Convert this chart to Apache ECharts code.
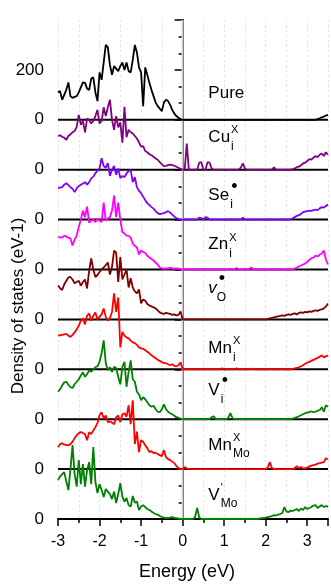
<!DOCTYPE html>
<html>
<head>
<meta charset="utf-8">
<script src="https://cdn.jsdelivr.net/npm/echarts@6/dist/echarts.min.js"></script>
<style>
html, body { margin: 0; padding: 0; background: #fff; }
#chart { width: 331px; height: 584px; }
</style>
</head>
<body>
<div id="chart"></div>
<script>
// energy grid of the DOS data, 0.05 eV steps from -3 to 3.5
const energy = [];
for (let i = 0; i <= 130; i++) energy.push(Math.round((-3 + i * 0.05) * 100) / 100);

const pure = [
  110,115,80,100,120,150,95,88,92,95,
  110,130,150,148,125,120,165,170,110,75,
  190,160,230,300,290,220,180,215,205,195,
  215,230,200,230,195,190,240,300,270,210,
  190,55,210,180,148,120,95,70,55,45,
  35,70,80,75,60,40,25,15,8,3,
  0,0,0,0,0,0,0,0,0,0,
  0,0,0,0,0,0,0,0,0,0,
  0,0,0,0,0,0,0,0,0,0,
  0,0,0,0,0,0,0,0,0,0,
  0,0,0,0,0,0,0,0,0,0,
  0,0,0,0,0,0,0,0,0,0,
  0,0,0,0,0,3,6,10,13,17,
  20];
const cuI = [
  136,138,132,128,120,135,142,150,155,172,
  220,180,195,150,205,200,185,195,215,240,
  185,195,250,215,250,280,200,160,215,170,
  190,108,252,130,160,150,145,135,125,110,
  92,95,75,70,62,58,52,45,40,30,
  22,14,15,18,20,18,16,12,8,3,
  0,0,105,0,0,0,0,0,28,30,
  0,0,30,28,5,0,0,0,0,0,
  0,0,0,0,0,0,0,0,8,25,
  5,0,0,0,0,0,0,0,0,0,
  0,0,0,0,10,0,0,0,0,0,
  0,0,0,2,5,10,12,18,25,28,
  35,42,40,48,55,50,60,65,55,70,
  60];
const seI = [
  126,128,130,140,146,138,130,124,110,125,
  135,140,145,150,140,150,165,172,186,195,
  206,246,215,208,226,175,200,215,180,205,
  166,175,170,185,195,198,150,170,130,115,
  106,92,78,66,58,50,44,34,26,22,
  24,26,30,34,28,20,12,6,2,0,
  0,0,0,0,0,0,0,0,8,6,
  0,10,8,0,0,0,0,0,0,0,
  0,0,0,0,0,0,0,0,0,8,
  0,0,0,0,0,0,0,0,0,0,
  0,0,0,0,0,0,0,0,0,0,
  0,0,2,5,10,15,18,22,30,32,
  34,36,35,38,40,38,45,50,48,55,
  60];
const znI = [
  129,130,128,136,132,128,124,96,120,136,
  170,200,236,210,252,188,195,200,190,204,
  195,190,268,195,205,210,236,296,210,268,
  200,150,144,136,135,128,104,95,88,60,
  76,70,66,55,48,42,36,28,20,8,
  4,3,4,4,8,4,3,4,3,2,
  0,0,0,0,0,0,0,0,0,0,
  0,0,0,0,0,0,0,0,0,0,
  0,0,0,0,0,0,6,0,0,0,
  0,0,0,8,0,0,0,0,0,0,
  0,0,0,0,0,0,0,0,0,0,
  0,0,0,2,4,8,12,16,20,24,
  30,38,45,48,56,52,60,64,76,40,
  20];
const vO = [
  136,125,118,140,155,168,170,160,145,150,
  155,135,150,160,124,196,244,200,170,178,
  190,200,208,218,228,180,210,276,268,150,
  250,160,180,200,128,165,128,112,104,120,
  64,80,75,62,56,52,48,44,36,28,
  24,22,26,24,22,18,20,16,18,32,
  0,0,0,0,0,0,0,0,0,0,
  0,0,0,0,0,0,0,0,0,0,
  0,0,0,0,0,0,0,0,0,0,
  0,0,0,0,0,0,0,0,0,0,
  0,2,4,6,8,10,12,14,16,14,
  18,20,18,22,24,20,26,28,26,30,
  28,32,30,34,36,34,38,40,44,52,
  64];
const mnI = [
  136,136,138,140,142,135,130,138,148,160,
  175,195,204,180,215,224,195,215,228,200,
  210,220,244,210,195,205,230,304,230,288,
  88,150,135,128,124,115,108,105,98,88,
  84,82,76,70,64,56,50,44,38,34,
  28,26,24,20,16,20,14,12,16,28,
  0,0,0,0,0,0,0,0,0,0,
  0,0,0,0,0,0,0,0,0,4,
  0,0,0,0,0,0,4,0,0,0,
  0,0,0,3,0,0,0,0,0,0,
  0,0,0,0,0,0,0,0,0,0,
  0,0,0,2,4,6,8,12,16,22,
  26,30,34,38,42,46,50,56,48,52,
  56];
const vI = [
  110,120,135,148,150,138,128,125,140,150,
  160,175,188,170,180,196,190,200,208,212,
  230,264,316,225,196,208,190,210,205,170,
  140,210,230,130,190,236,160,150,110,100,
  76,88,80,68,56,50,54,40,30,28,
  40,60,40,30,24,20,14,8,6,2,
  0,0,0,0,0,0,0,0,0,0,
  0,0,0,0,8,12,0,0,0,0,
  0,0,6,24,4,0,0,0,0,0,
  0,0,0,0,0,0,0,0,0,0,
  0,0,0,0,0,0,0,0,0,0,
  0,0,0,2,5,8,12,16,20,24,
  26,28,32,28,30,34,36,48,30,56,
  50];
const mnMo = [
  88,100,104,98,96,96,100,110,124,135,
  144,148,145,140,116,148,140,155,168,184,
  216,228,205,215,188,192,186,180,208,215,
  188,220,224,210,256,180,276,100,150,68,
  116,110,95,84,68,72,64,66,60,56,
  52,76,48,40,36,30,24,12,4,0,
  0,8,2,0,0,0,0,0,0,0,
  0,0,0,0,0,0,0,0,0,0,
  0,0,0,0,0,0,0,0,0,0,
  0,0,0,0,0,0,0,0,0,0,
  0,6,28,4,0,0,0,0,0,0,
  0,0,0,0,4,12,4,8,2,4,
  6,10,14,16,18,22,24,26,28,44,
  38];
const vMo = [
  156,170,180,188,150,116,200,296,180,130,
  236,140,220,130,196,228,140,288,150,104,
  140,116,88,120,110,100,80,110,64,100,
  144,90,70,84,55,50,92,65,70,36,
  50,55,48,40,36,30,24,20,18,12,
  8,6,4,4,6,8,4,3,2,0,
  0,0,0,0,0,0,8,44,6,0,
  0,0,0,0,0,0,0,0,0,0,
  0,0,0,0,0,0,0,0,0,0,
  0,0,0,0,0,0,0,2,3,4,
  6,8,10,12,16,14,18,20,24,48,
  30,28,34,32,36,40,32,42,36,48,
  40,44,48,54,56,44,50,56,48,52,
  50];

// stacking: each panel is shifted up by 200 states/eV
const curves = [pure, cuI, seI, znI, vO, mnI, vI, mnMo, vMo];
const offsets = [1600, 1400, 1200, 1000, 800, 600, 400, 200, 0];
const colors = ['#000000', '#800080', '#8000ff', '#ff00ff', '#800000', '#ff0000', '#008000', '#ff0000', '#008000'];

// y tick labels: "0" at every baseline, "200" above the top one
const yTickValues = [0, 200, 400, 600, 800, 1000, 1200, 1400, 1600, 1800];
const yTickTexts = ['0', '0', '0', '0', '0', '0', '0', '0', '0', '200'];
const xTickValues = [-3, -2, -1, 0, 1, 2, 3];
const xTickTexts = ['-3', '-2', '-1', '0', '1', '2', '3'];

// panel names: main text, superscript, subscript, height above baseline
const labelMain = ['Pure', 'Cu', 'Se', 'Zn', 'v', 'Mn', 'V', 'Mn', 'V'];
const labelSup = ['', 'X', '•', 'X', '•', 'X', '•', 'X', '\''];
const labelSub = ['', 'i', 'i', 'i', 'O', 'i', 'i', 'Mo', 'Mo'];
const labelLift = [108, 130, 96, 100, 124, 84, 116, 96, 96];
const labelE = 0.62;

const FONT = '"Liberation Sans", Arial, sans-serif';

const series = [];
// zero line of each panel
offsets.forEach(function (off) {
  series.push({
    type: 'line', silent: true, symbol: 'none',
    data: [[-3, off], [3.5, off]],
    lineStyle: { color: '#000', width: 2 }
  });
});
// Fermi level
series.push({
  type: 'line', silent: true, symbol: 'none',
  data: [[0, 0], [0, 2000]],
  lineStyle: { color: '#d0d0d0', width: 2 }
});
curves.forEach(function (vals, k) {
  series.push({
    type: 'line', silent: true, symbol: 'none',
    data: vals.map(function (v, i) { return [energy[i], v + offsets[k]]; }),
    lineStyle: { color: colors[k], width: 1.8 }
  });
});

const option = {
  animation: false,
  grid: { left: 58, right: 1, top: 20, bottom: 65 },
  xAxis: [
    {
      type: 'value', min: -3, max: 3.5, interval: 1, position: 'bottom',
      axisLine: { lineStyle: { color: '#000', width: 2 } },
      axisTick: { length: 7, lineStyle: { color: '#000', width: 1.5 } },
      axisLabel: {
        color: '#000', fontSize: 16, fontFamily: FONT, margin: 15,
        formatter: function (v) {
          const k = xTickValues.indexOf(Math.round(v * 100) / 100);
          return k < 0 ? '' : xTickTexts[k];
        }
      },
      splitLine: { show: false }
    },
    {
      type: 'value', min: -3, max: 3.5, interval: 0.5, position: 'bottom',
      axisLine: { show: false },
      axisTick: { length: 4, lineStyle: { color: '#000', width: 1.5 } },
      axisLabel: { show: false },
      splitLine: { show: true, lineStyle: { color: '#e2e2e2', width: 1, type: [2, 3] } }
    }
  ],
  yAxis: {
    type: 'value', min: 0, max: 2000, interval: 200,
    axisLine: { show: true, lineStyle: { color: '#000', width: 2 } },
    axisTick: { show: true, length: 8, lineStyle: { color: '#000', width: 1.5 } },
    minorTick: { show: true, splitNumber: 3, length: 4, lineStyle: { color: '#000', width: 1.5 } },
    axisLabel: {
      color: '#000', fontSize: 17, fontFamily: FONT, margin: 14,
      formatter: function (v) {
        const k = yTickValues.indexOf(Math.round(v));
        return k < 0 ? '' : yTickTexts[k];
      }
    },
    splitLine: { show: false }
  },
  series: series
};

const chart = echarts.init(document.getElementById('chart'));
chart.setOption(option);

// panel labels with sub/superscripts, placed through the axes
const ctx = document.createElement('canvas').getContext('2d');
function textWidth(t, font) { ctx.font = font; return ctx.measureText(t).width; }

const graphics = [];
labelMain.forEach(function (txt, k) {
  const p = chart.convertToPixel({ xAxisIndex: 0, yAxisIndex: 0 }, [labelE, offsets[k] + labelLift[k]]);
  const mainFont = (txt === 'v' ? 'italic ' : '') + '17px ' + FONT;
  const w = textWidth(txt, mainFont);
  graphics.push({ type: 'text', x: p[0], y: p[1], style: { text: txt, font: mainFont, fill: '#000', align: 'left', verticalAlign: 'middle' } });
  if (labelSup[k]) {
    const isDot = labelSup[k] === '•';
    graphics.push({
      type: 'text', x: p[0] + w + (isDot ? 2 : 1), y: p[1] - (isDot ? 9 : 7),
      style: { text: labelSup[k], font: (isDot ? '18px ' : '11px ') + FONT, fill: '#000', align: 'left', verticalAlign: 'middle' }
    });
  }
  if (labelSub[k]) {
    graphics.push({
      type: 'text', x: p[0] + w + (txt === 'v' ? 0 : 1), y: p[1] + 9,
      style: { text: labelSub[k], font: '12px ' + FONT, fill: '#000', align: 'left', verticalAlign: 'middle' }
    });
  }
});
graphics.push({ type: 'text', x: 187, y: 572, style: { text: 'Energy (eV)', font: '18px ' + FONT, fill: '#000', align: 'center', verticalAlign: 'middle' } });
graphics.push({ type: 'text', x: 18, y: 306, rotation: Math.PI / 2, style: { text: 'Density of states (eV-1)', font: '17px ' + FONT, fill: '#000', align: 'center', verticalAlign: 'middle' } });
chart.setOption({ graphic: graphics });
</script>
</body>
</html>
